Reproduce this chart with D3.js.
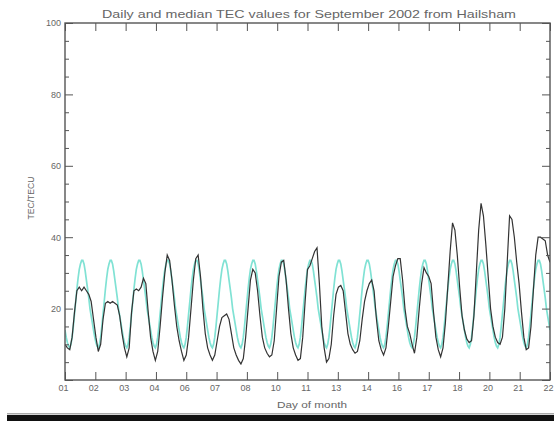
<!DOCTYPE html>
<html><head><meta charset="utf-8">
<script src="https://cdn.jsdelivr.net/npm/d3@7"></script>
<style>body{margin:0;background:#fff}svg{display:block}text{font-family:"Liberation Sans",Arial,sans-serif}</style>
</head><body><svg id="c" width="554" height="421"></svg>
<script>
// ---- text ----
const chartTitle = "Daily and median TEC values for September 2002 from Hailsham";
const xTitle = "Day of month";
const yTitle = "TEC/TECU";

// ---- axis ticks ----
const xTickLabels = ["01","02","03","04","06","07","08","10","11","13","14","16","17","18","20","21","22"];
const yMajorTicks = [0, 20, 40, 60, 80, 100];
const yMajorLabels = ["", "20", "40", "60", "80", "100"];
const yMinorTicks = [5,10,15,25,30,35,45,50,55,65,70,75,85,90,95];

// ---- data ----
const nDays = 17;
const sampleHours = 2; // daily TEC sampled every 2 hours (UT 00,02,...,22)
const dailyTEC = [
  10, 9, 8.5, 12, 19, 25, 26, 25, 26, 25, 24, 22,           // day 1
  17, 12, 8, 10, 17, 21.5, 22, 21.5, 22, 21.5, 21, 18,      // day 2
  13, 9, 6.5, 9, 19, 25, 25.5, 25, 26, 28.5, 27, 19,        // day 3
  12, 8, 5.5, 8, 15, 23, 30, 35, 33.5, 28, 21, 15,          // day 4
  11, 8, 5.5, 7, 12, 20, 28, 34, 35, 29, 20, 13,            // day 5
  9, 7, 5.5, 7, 11, 15, 17.5, 18, 18.5, 17, 13, 9,          // day 6
  7, 5.5, 4.5, 6, 12, 20, 28, 31, 30, 25, 18, 12,           // day 7
  9, 7.5, 6.5, 7, 11, 20, 29, 33, 33.5, 28, 20, 13,         // day 8
  9, 7, 5.5, 6, 12, 22, 31, 32, 34, 36, 37, 27,             // day 9
  15, 9, 5, 6, 10, 18, 24, 26, 26.5, 25, 19, 13,            // day 10
  10, 8.5, 7.5, 8, 11, 17, 22, 25, 27, 28, 25, 17,          // day 11
  11, 8.5, 7, 9, 15, 22, 29, 32, 34, 34, 28, 20,            // day 12
  15, 13, 10, 7.5, 12, 20, 27, 31.5, 30, 29, 27, 19,        // day 13
  12, 8.5, 6.5, 9, 16, 26, 36, 44, 42, 35, 26, 18,          // day 14
  14, 11.5, 10.5, 11, 18, 30, 42, 49.5, 46, 38, 29, 20,     // day 15
  15, 12, 10.5, 10, 12, 20, 33, 46, 45, 40, 33, 27,         // day 16
  19, 12, 8.5, 9, 15, 25, 35, 40, 40, 39.5, 39, 35,         // day 17
  33
];
// monthly median diurnal profile, hourly UT 00..23
const medianProfile = [14, 12, 10.5, 9.5, 9, 10, 12, 15, 18.5, 22, 25.5, 28.5,
                       31, 32.5, 33.5, 33.5, 32.5, 30.5, 28, 25.5, 23, 20, 18, 16];

// ---- layout ----
const L = 65, R = 550, T = 23, B = 380;
const svg = d3.select("#c");
const x = d3.scaleLinear().domain([0, nDays * 24]).range([L, R]);
const y = d3.scaleLinear().domain([0, 100]).range([B, T]);
const xt = d3.scalePoint().domain(xTickLabels).range([L, R]);

const dailyPts = dailyTEC.map((v, i) => ({t: i * sampleHours, v}));
const medianPts = [];
for (let d = 0; d < nDays; d++) medianProfile.forEach((v, h) => medianPts.push({t: d * 24 + h, v}));
medianPts.push({t: nDays * 24, v: medianProfile[0]});

svg.append("clipPath").attr("id", "clip").append("rect")
  .attr("x", L).attr("y", T).attr("width", R - L).attr("height", B - T);

const line = d3.line().x(d => x(d.t)).y(d => y(d.v));
const g = svg.append("g").attr("clip-path", "url(#clip)");
g.append("path").datum(medianPts).attr("d", line)
  .attr("fill", "none").attr("stroke", "#80e2d4").attr("stroke-width", 1.7);
g.append("path").datum(dailyPts).attr("d", line)
  .attr("fill", "none").attr("stroke", "#333").attr("stroke-width", 1.2);

// ---- axes ----
const axCol = "#555";
function style(sel) {
  sel.select(".domain").remove();
  sel.selectAll("line").attr("stroke", axCol).attr("stroke-width", 1);
  sel.selectAll("text").attr("fill", "#666").style("font-size", "9px");
}
svg.append("g").attr("transform", `translate(0,${B})`)
  .call(d3.axisBottom(xt).tickSize(-8).tickPadding(5)).call(style)
  .selectAll("text").attr("dx", "-2");
svg.append("g").attr("transform", `translate(0,${T})`)
  .call(d3.axisTop(xt).tickSize(-8).tickFormat("")).call(style);
svg.append("g").attr("transform", `translate(${L},0)`)
  .call(d3.axisLeft(y).tickValues(yMajorTicks).tickSize(-8).tickPadding(4)
    .tickFormat((d, i) => yMajorLabels[i])).call(style);
svg.append("g").attr("transform", `translate(${L},0)`)
  .call(d3.axisLeft(y).tickValues(yMinorTicks).tickSize(-4).tickFormat("")).call(style);
svg.append("g").attr("transform", `translate(${R},0)`)
  .call(d3.axisRight(y).tickValues(yMajorTicks).tickSize(-8).tickFormat("")).call(style);
svg.append("g").attr("transform", `translate(${R},0)`)
  .call(d3.axisRight(y).tickValues(yMinorTicks).tickSize(-4).tickFormat("")).call(style);

svg.append("rect").attr("x", L).attr("y", T).attr("width", R - L).attr("height", B - T)
  .attr("fill", "none").attr("stroke", axCol).attr("stroke-width", 1.4);

// ---- titles ----
svg.append("text").attr("x", 309).attr("y", 18).attr("text-anchor", "middle")
  .attr("textLength", 414).attr("lengthAdjust", "spacingAndGlyphs")
  .style("font-size", "10.5px").attr("fill", "#666").text(chartTitle);
svg.append("text").attr("x", 312).attr("y", 408).attr("text-anchor", "middle")
  .attr("textLength", 70).attr("lengthAdjust", "spacingAndGlyphs")
  .style("font-size", "9px").attr("fill", "#666").text(xTitle);
svg.append("text").attr("transform", "translate(34,198) rotate(-90)").attr("text-anchor", "middle")
  .attr("textLength", 43).attr("lengthAdjust", "spacingAndGlyphs")
  .style("font-size", "8.5px").attr("fill", "#666").text(yTitle);

// ---- bottom bar ----
svg.append("rect").attr("x", 7).attr("y", 413).attr("width", 547).attr("height", 1.5).attr("fill", "#aaa");
svg.append("rect").attr("x", 7).attr("y", 415).attr("width", 547).attr("height", 6).attr("fill", "#111");
</script></body></html>
